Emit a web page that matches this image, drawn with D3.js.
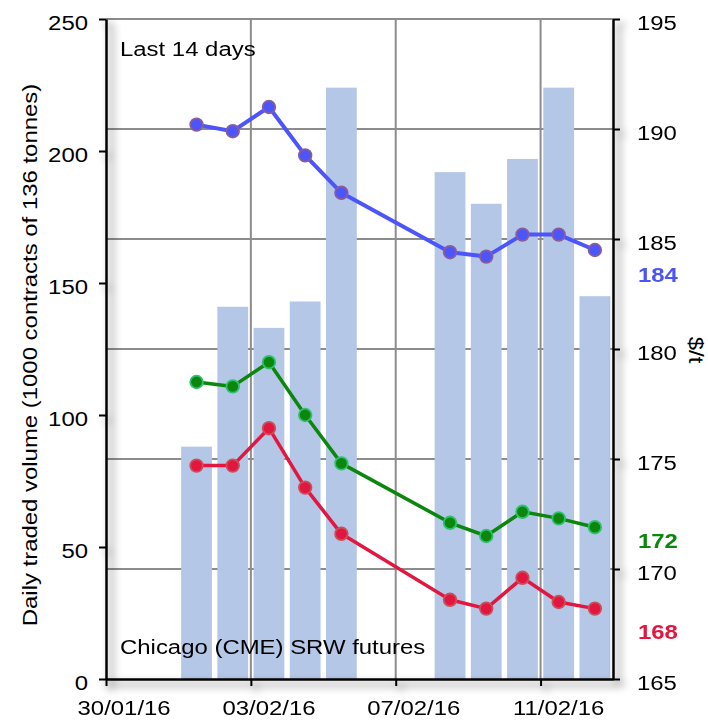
<!DOCTYPE html>
<html><head><meta charset="utf-8">
<script src="https://cdn.jsdelivr.net/npm/d3@7"></script>
<style>body{margin:0;background:#fff}svg{display:block;font-family:"Liberation Sans",Arial,sans-serif}</style>
</head><body><svg id="c" width="708" height="720"></svg>
<script>
const dates = ["2016-02-01","2016-02-02","2016-02-03","2016-02-04","2016-02-05","2016-02-08","2016-02-09","2016-02-10","2016-02-11","2016-02-12"];
const volume = [88, 141, 133, 143, 224, 192, 180, 197, 224, 145];
const priceBlue = [190.2, 189.9, 191.0, 188.8, 187.1, 184.4, 184.2, 185.2, 185.2, 184.5];
const priceGreen = [178.5, 178.3, 179.4, 177.0, 174.8, 172.1, 171.5, 172.6, 172.3, 171.9];
const priceRed = [174.7, 174.7, 176.4, 173.7, 171.6, 168.6, 168.2, 169.6, 168.5, 168.2];
const leftTicks = [0, 50, 100, 150, 200, 250];
const rightTicks = [165, 170, 175, 180, 185, 190, 195];
const dateTicks = ["2016-01-30","2016-02-03","2016-02-07","2016-02-11"];
const endLabels = [{text:"184", color:"#4b55f5", y:183.55}, {text:"172", color:"#0b870b", y:171.45}, {text:"168", color:"#e2163f", y:167.32}];

const parse = d3.utcParse("%Y-%m-%d");
const fmt = d3.utcFormat("%d/%m/%y");
const L = 106, R = 613, T = 19, B = 679;
const FS = 21, SX = 1.14;
const x = d3.scaleUtc().domain([parse("2016-01-30"), parse("2016-02-13")]).range([L, R]);
const yL = d3.scaleLinear().domain([0, 250]).range([B, T]);
const yR = d3.scaleLinear().domain([165, 195]).range([B, T]);
const DAY = 864e5;
const center = d => new Date(parse(d).getTime() + DAY/2);
const dayW = x(parse("2016-01-31")) - x(parse("2016-01-30"));
const barW = dayW * 0.85;

const svg = d3.select("#c");
const defs = svg.append("defs");
const f = defs.append("filter").attr("id","sh").attr("x","-20%").attr("y","-20%").attr("width","140%").attr("height","140%");
f.append("feGaussianBlur").attr("in","SourceAlpha").attr("stdDeviation",4);
f.append("feOffset").attr("dx",5).attr("dy",5).attr("result","o");
f.append("feComponentTransfer").append("feFuncA").attr("type","linear").attr("slope",0.55);
const m = f.append("feMerge"); m.append("feMergeNode"); m.append("feMergeNode").attr("in","SourceGraphic");

function txt(g, tx, ty, s, opts = {}) {
  const rot = opts.rotate ? ` rotate(${opts.rotate})` : "";
  return g.append("text")
    .attr("transform", `translate(${tx},${ty})${rot} scale(${SX},1)`)
    .attr("text-anchor", opts.anchor || "start")
    .attr("font-size", opts.size || FS)
    .attr("font-weight", opts.weight || "normal")
    .attr("fill", opts.fill || "#000")
    .text(s);
}

// gridlines
const grid = svg.append("g");
grid.selectAll("line.h").data(rightTicks.filter(v => v > 165)).join("line")
  .attr("x1", L).attr("x2", R).attr("y1", d => yR(d)).attr("y2", d => yR(d))
  .attr("stroke", "#8c8c8c").attr("stroke-width", 2);
grid.selectAll("line.v").data(dateTicks.slice(1)).join("line")
  .attr("x1", d => x(parse(d))).attr("x2", d => x(parse(d))).attr("y1", T).attr("y2", B)
  .attr("stroke", "#8c8c8c").attr("stroke-width", 2);

// bars
svg.append("g").selectAll("rect").data(dates).join("rect")
  .attr("x", d => x(center(d)) - barW/2).attr("width", barW)
  .attr("y", (d,i) => yL(volume[i])).attr("height", (d,i) => B - yL(volume[i]))
  .attr("fill", "#b4c7e7");

// axes frame with shadow
const ax = svg.append("g").attr("filter","url(#sh)");
const axB = ax.append("g").attr("transform",`translate(0,${B})`)
  .call(d3.axisBottom(x).tickValues(dateTicks.map(parse)).tickFormat("").tickSize(7).tickSizeOuter(0));
const axL = ax.append("g").attr("transform",`translate(${L},0)`)
  .call(d3.axisLeft(yL).tickValues(leftTicks).tickFormat("").tickSize(7).tickSizeOuter(0));
const axR = ax.append("g").attr("transform",`translate(${R},0)`)
  .call(d3.axisRight(yR).tickValues(rightTicks).tickFormat("").tickSize(7).tickSizeOuter(0));
[axB, axL, axR].forEach(g => {
  g.select(".domain").attr("stroke","#000").attr("stroke-width",2.5);
  g.selectAll(".tick line").attr("stroke","#000").attr("stroke-width",2);
  g.selectAll(".tick text").remove();
});

// tick labels
const tl = svg.append("g");
leftTicks.forEach(v => txt(tl, L - 18, yL(v) + 11, String(v), {anchor:"end"}));
rightTicks.forEach(v => txt(tl, R + 24, yR(v) + 11, String(v)));
dateTicks.forEach(d => txt(tl, x(parse(d)) + dayW/2, 715, fmt(parse(d)), {anchor:"middle"}));

// lines
function series(vals, stroke, mfill, mstroke, w) {
  const g = svg.append("g");
  g.append("path").datum(vals)
    .attr("d", d3.line().x((v,i) => x(center(dates[i]))).y(v => yR(v)))
    .attr("fill","none").attr("stroke",stroke).attr("stroke-width",w).attr("stroke-linejoin","round");
  g.selectAll("circle").data(vals).join("circle")
    .attr("cx",(v,i) => x(center(dates[i]))).attr("cy", v => yR(v)).attr("r",6.3)
    .attr("fill",mfill).attr("stroke",mstroke).attr("stroke-width",1.8);
}
series(priceBlue, "#4b55fb", "#4b55fb", "#8a5d9a", 4);
series(priceGreen, "#0b870b", "#0b870b", "#2fc070", 3.5);
series(priceRed, "#e2163f", "#e2163f", "#c8505a", 3.5);

// end labels
const el = svg.append("g");
endLabels.forEach(d => txt(el, R + 25, yR(d.y) + 11, d.text, {fill:d.color, weight:"bold"}));

// annotations
txt(svg, 120, 56, "Last 14 days");
txt(svg, 120, 654, "Chicago (CME)  SRW futures");
txt(svg, 37, 355, "Daily  traded volume (1000 contracts of 136 tonnes)", {rotate:-90, anchor:"middle"});
txt(svg, 689, 350, "$/t", {rotate:90, anchor:"middle"});
</script></body></html>
